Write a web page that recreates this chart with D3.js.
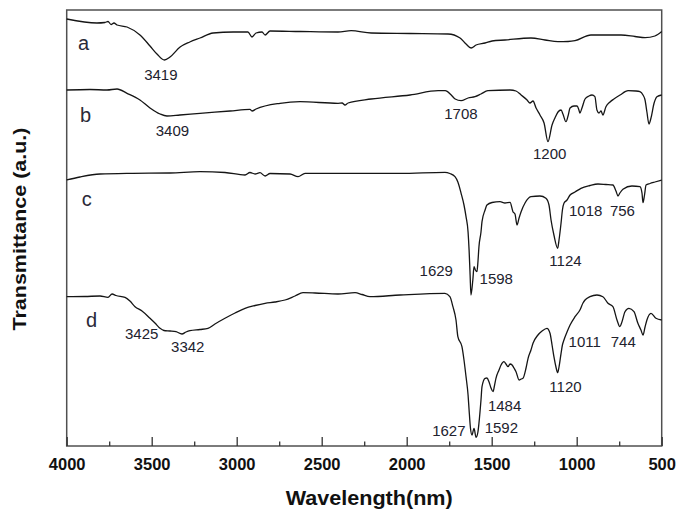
<!DOCTYPE html>
<html>
<head>
<meta charset="utf-8">
<script src="https://cdn.jsdelivr.net/npm/d3@7"></script>
<style>
  body { margin: 0; background: #fff; }
  svg { display: block; font-family: "Liberation Sans", Arial, sans-serif; }
</style>
</head>
<body>
<script>
// FTIR spectra (wavenumber, transmittance a.u.)
var waveA = [4000,3822,3775,3757,3739,3722,3704,3645,3569,3510,3469,3425,3392,3333,3276,3216,3139,3021,2934,2910,2886,2851,2833,2804,2627,2404,2327,2209,1980,1757,1686,1651,1621,1592,1539,1498,1422,1269,1186,1110,1051,1010,916,739,657,598,540,500];
var valA  = [427,423,423.5,424.5,421.5,423,421,419,411,400,392,386,389,399,404,408,413,414,414,409,413,414,411,415,414.5,414,415.3,413,412.5,412,408,402,398,401,403,405,406,408,406,404.3,404.5,405.3,411,411,409.5,408.3,410,414.5];

var waveB = [4000,3863,3763,3704,3645,3569,3510,3451,3410,3334,3216,3039,2922,2910,2886,2745,2627,2404,2380,2363,2345,2209,1980,1815,1773,1738,1715,1680,1639,1598,1563,1522,1392,1357,1327,1292,1275,1257,1239,1216,1192,1169,1145,1128,1110,1092,1081,1063,1051,1039,1016,998,987,981,969,951,928,910,893,881,869,857,846,828,804,781,745,698,651,628,610,598,587,575,563,545,528,500];
var valB  = [356,356.5,356,357,352.7,346,338,332,330,331,332.7,335,336.7,335,337,342.7,344.3,342.7,343,341,343,347,351,355.3,355.3,351,347,345.3,348,349.3,352,355.3,356,355,351,346,343,345,338,331,323,304.3,321,328,334,336,332,324.3,330,338,340,340,336,333,338,347,350,351,349.3,336,333,335,331,339.3,344,347,351,355.3,355,354.3,351,346,334,322,328,342.7,349.3,351];

var waveC = [4000,3922,3804,3610,3392,3216,3069,2951,2922,2892,2863,2833,2804,2686,2639,2598,2404,2039,1775,1746,1716,1699,1680,1663,1651,1639,1633,1627,1622,1611,1604,1596,1587,1581,1575,1563,1557,1539,1528,1498,1451,1422,1392,1375,1363,1351,1339,1327,1304,1269,1216,1181,1163,1151,1134,1112,1104,1092,1084,1075,1057,1039,1010,975,922,875,828,787,769,757,746,728,675,628,616,610,601,592,569,540,500];
var valC  = [266,269,272,272.7,273,274.3,273.5,271,273.5,272,273.3,270,272.5,272,269.3,272.7,272.7,272.7,273.7,272.5,269.3,264,252.7,241,229.3,214,196,171,151,166,179.3,176,174.3,184,199.3,214,224.3,236,241,243.5,244.3,243,243.7,234.3,232,221,228,234.3,243,249.3,250,247.7,241,226,211,197.7,206,223,236,242.7,246,251,254,257.7,260.5,262,261.5,261,255,250,253,256.7,260,259.3,253,243.3,251,261,262.5,264,266];

var waveD = [4000,3892,3804,3757,3733,3710,3657,3628,3598,3557,3510,3481,3451,3428,3392,3357,3322,3298,3275,3216,3169,3128,3069,3010,2951,2892,2833,2775,2716,2657,2610,2539,2404,2304,2263,2216,2039,1775,1746,1728,1710,1699,1675,1663,1651,1639,1633,1625,1616,1604,1592,1581,1575,1563,1557,1539,1528,1516,1504,1492,1484,1475,1457,1445,1428,1416,1404,1392,1380,1369,1357,1339,1327,1316,1298,1286,1269,1257,1228,1204,1175,1157,1145,1134,1122,1112,1104,1092,1084,1075,1057,1039,1010,981,963,951,922,881,846,816,787,763,746,734,716,693,663,640,622,610,598,587,563,534,500];
var valD  = [149.3,149.5,150,148.7,152,150.5,148.7,145,139.3,135,127.7,123,117.7,115.5,115,114.3,112,114,115.3,116.5,117.7,122,127.7,133,137.7,140.5,142.7,144,146,150,153.3,153,152,153.3,151.5,149.3,151,152.7,149.3,139.3,126,109.3,99.3,86,69.3,51,36,18,11,17.7,8.7,14,22.7,46,59.3,67.7,68,64.3,58,54.3,60,67.7,76,81,84.3,82,79.3,82,81,78,74.3,66,67,67.7,78,87.7,96,102.7,111,115,117.7,112.7,101,89.3,79,73.3,79,92.7,101,106,114,121,129.3,136,143,146,149.3,151,149.3,142.7,139.3,126,119.3,124,134.3,137.7,134.3,122.7,116,111,119,126,132.7,127.7,126];

var curveNames = ["a", "b", "c", "d"];
var nameWave = [3934, 3922, 3912, 3886];
var nameVal  = [396.5, 324.5, 240, 119.5];

var peakText = ["3419","3409","1708","1200","1629","1598","1124","1018","756","3425","3342","1627","1592","1484","1120","1011","744"];
var peakWave = [3446,3378,1681,1159,1826,1473,1066,947,731,3559,3288,1752,1443,1424,1066,953,726];
var peakVal  = [366.5,310.5,327.5,287,170.5,162,180,230,230,107,94,10.5,13,35.5,54,99,99];

var majorTicks = [4000,3500,3000,2500,2000,1500,1000,500];
var minorTicks = [3750,3250,2750,2250,1750,1250,750];

var W = 678, H = 510;
var plotL = 66.7, plotR = 661.7, plotT = 10, plotB = 446;

var svg = d3.select("body").append("svg")
  .attr("width", W).attr("height", H);

var x = d3.scaleLinear().domain([4000, 500]).range([plotL, plotR]);
var y = d3.scaleLinear().domain([0, 436]).range([plotB, plotT]);

// frame
svg.append("rect")
  .attr("x", plotL).attr("y", plotT)
  .attr("width", plotR - plotL).attr("height", plotB - plotT)
  .attr("fill", "none").attr("stroke", "#505050").attr("stroke-width", 1.5);

// spectra
var series = [[waveA, valA], [waveB, valB], [waveC, valC], [waveD, valD]];
var line = d3.line()
  .x(function(d) { return x(d[0]); })
  .y(function(d) { return y(d[1]); })
  .curve(d3.curveMonotoneX);

series.forEach(function(s) {
  var pts = s[0].map(function(w, i) { return [w, s[1][i]]; });
  svg.append("path")
    .datum(pts)
    .attr("d", line)
    .attr("fill", "none")
    .attr("stroke", "#151515")
    .attr("stroke-width", 1.3)
    .attr("stroke-linejoin", "round");
});

// x axis, ticks pointing inward
var xAxis = svg.append("g")
  .attr("transform", "translate(0," + plotB + ")")
  .call(d3.axisBottom(x).tickValues(majorTicks).tickSize(-9).tickFormat(d3.format("d")));
xAxis.select(".domain").remove();
xAxis.selectAll(".tick line").attr("stroke", "#333").attr("stroke-width", 1.3);
xAxis.selectAll(".tick text")
  .attr("y", 23.5).attr("dy", null)
  .attr("fill", "#111")
  .style("font-size", "16.5px").style("font-weight", "bold")
  .style("font-family", "'Liberation Sans', Arial, sans-serif");

var xMinor = svg.append("g")
  .attr("transform", "translate(0," + plotB + ")")
  .call(d3.axisBottom(x).tickValues(minorTicks).tickSize(-4.5).tickFormat(""));
xMinor.select(".domain").remove();
xMinor.selectAll(".tick line").attr("stroke", "#333").attr("stroke-width", 1.3);

// axis titles
svg.append("text")
  .attr("x", (plotL + plotR) / 2 + 5).attr("y", 505)
  .attr("text-anchor", "middle")
  .attr("textLength", 167).attr("lengthAdjust", "spacingAndGlyphs")
  .style("font-size", "20px").style("font-weight", "bold")
  .attr("fill", "#111")
  .text("Wavelength(nm)");

svg.append("text")
  .attr("transform", "translate(25.5,229) rotate(-90)")
  .attr("text-anchor", "middle")
  .attr("textLength", 203).attr("lengthAdjust", "spacingAndGlyphs")
  .style("font-size", "18px").style("font-weight", "bold")
  .attr("fill", "#111")
  .text("Transmittance (a.u.)");

// curve letters
svg.selectAll(".name")
  .data(curveNames)
  .enter().append("text")
  .attr("class", "name")
  .attr("x", function(d, i) { return x(nameWave[i]); })
  .attr("y", function(d, i) { return y(nameVal[i]); })
  .style("font-size", "20px")
  .attr("fill", "#2a2a38")
  .text(function(d) { return d; });

// peak labels
svg.selectAll(".peak")
  .data(peakText)
  .enter().append("text")
  .attr("class", "peak")
  .attr("x", function(d, i) { return x(peakWave[i]); })
  .attr("y", function(d, i) { return y(peakVal[i]); })
  .attr("text-anchor", "middle")
  .style("font-size", "15px")
  .attr("fill", "#22222e")
  .text(function(d) { return d; });
</script>
</body>
</html>
